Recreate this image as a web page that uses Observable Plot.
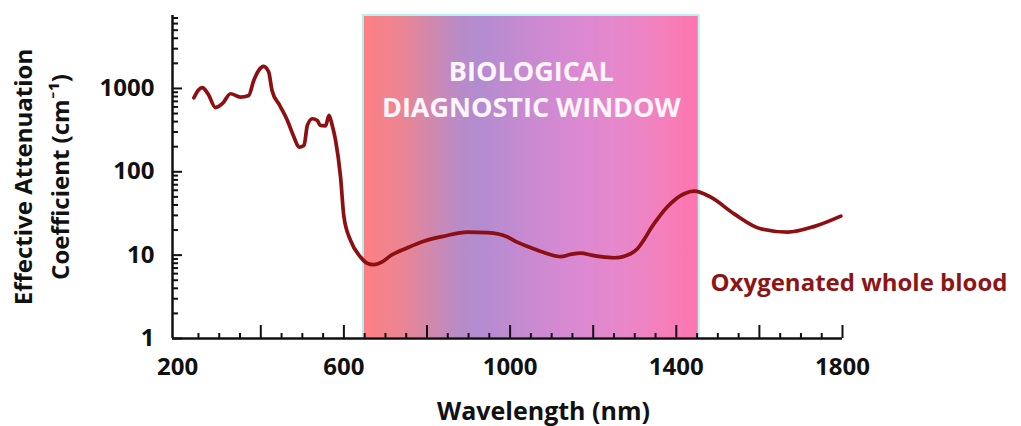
<!DOCTYPE html>
<html>
<head>
<meta charset="utf-8">
<script src="https://cdn.jsdelivr.net/npm/d3@7"></script>
<script src="https://cdn.jsdelivr.net/npm/@observablehq/plot@0.6"></script>
<style>
  html, body { margin: 0; padding: 0; background: #fff; }
  #chart svg { display: block; }
</style>
</head>
<body>
<div id="chart"></div>
<script>
// ---- data ----
const wavelength = [239, 250, 259, 273, 291, 308, 327, 351, 371, 383, 395, 407, 419, 427, 446, 464, 480, 492, 504, 512, 524, 536, 543, 556, 564, 572, 580, 592, 600, 616, 640, 656, 672, 692, 713, 752, 792, 843, 897, 946, 994, 1017, 1055, 1090, 1122, 1145, 1170, 1196, 1218, 1250, 1290, 1307, 1323, 1339, 1359, 1378, 1419, 1443, 1483, 1539, 1603, 1668, 1731, 1796];
const attenuation = [773, 960, 1020, 860, 590, 660, 863, 787, 824, 1247, 1650, 1837, 1571, 946, 620, 413, 260, 198, 207, 360, 433, 413, 360, 356, 474, 360, 238, 86, 29, 15, 9.5, 8.0, 7.7, 8.3, 9.9, 12.2, 14.7, 17.0, 18.9, 18.6, 16.5, 14.3, 12.0, 10.4, 9.6, 10.2, 10.6, 10.0, 9.6, 9.3, 10.4, 12.0, 15.5, 21.0, 29.0, 37.7, 54.5, 58.6, 49.6, 31.3, 20.7, 18.9, 22.0, 29.4];
const seriesName = "Oxygenated whole blood";

const windowStart = 647;
const windowEnd = 1455;
const windowLabel = "BIOLOGICAL\nDIAGNOSTIC WINDOW";

const xDomain = [187.5, 1800];
const yDomain = [1, 7500];
const xTickLabels = [200, 600, 1000, 1400, 1800];
const xMajorTicks = [400, 600, 800, 1000, 1200, 1400, 1600, 1800];
const xMinorTicks = [250, 300, 350, 450, 500, 550, 650, 700, 750, 850, 900, 950, 1050, 1100, 1150, 1250, 1300, 1350, 1450, 1500, 1550, 1650, 1700, 1750];
const yTickLabels = [1, 10, 100, 1000];
const yMinorTicks = [2, 3, 4, 5, 6, 7, 8, 9, 20, 30, 40, 50, 60, 70, 80, 90, 200, 300, 400, 500, 600, 700, 800, 900, 2000, 3000, 4000, 5000, 6000, 7000];

const xTitle = "Wavelength (nm)";
const yTitle = "Effective Attenuation\nCoefficient (cm\u207B\u00B9)";

// ---- build table ----
const curve = wavelength.map((w, i) => ({w, a: attenuation[i]}));
const bandRow = [{x1: windowStart, x2: windowEnd, y1: yDomain[0], y2: yDomain[1]}];

const FONT = "'Open Sans', Lato, sans-serif";
const lineColor = "#8c0f12";

const chart = Plot.plot({
  width: 1021,
  height: 426,
  marginLeft: 172,
  marginRight: 179,
  marginTop: 15,
  marginBottom: 88,
  style: {fontFamily: FONT, fontWeight: "bold", color: "#111", background: "#fff", overflow: "visible"},
  x: {type: "linear", domain: xDomain},
  y: {type: "log", domain: yDomain},
  marks: [
    Plot.rect(bandRow, {x1: "x1", x2: "x2", y1: "y1", y2: "y2", fill: "url(#bdwGrad)", stroke: "#b4f1f5", strokeWidth: 2}),
    Plot.text([windowLabel], {x: (windowStart + windowEnd) / 2, frameAnchor: "top", lineAnchor: "top", dy: 41, lineHeight: 1.3, fontSize: 27, fill: "#fff5fa", fontWeight: "bold"}),
    // axes: tick labels
    Plot.axisX(xTickLabels, {tickSize: 0, tickPadding: 19, fontSize: 24, fontWeight: "bold", label: null, tickFormat: d3.format("d")}),
    Plot.axisY(yTickLabels, {tickSize: 0, tickPadding: 18, fontSize: 24, fontWeight: "bold", label: null, tickFormat: d3.format("d")}),
    // inward ticks
    Plot.axisX(xMajorTicks, {tickSize: -13, strokeWidth: 2, tickFormat: () => "", label: null}),
    Plot.axisX(xMinorTicks, {tickSize: -5, strokeWidth: 2, tickFormat: () => "", label: null}),
    Plot.axisY(yTickLabels, {tickSize: -10, strokeWidth: 2, tickFormat: () => "", label: null}),
    Plot.axisY(yMinorTicks, {tickSize: -6, strokeWidth: 2, tickFormat: () => "", label: null}),
    // axis lines
    Plot.ruleX([xDomain[0]], {stroke: "#111", strokeWidth: 2.5}),
    Plot.ruleY([yDomain[0]], {stroke: "#111", strokeWidth: 2.5}),
    // titles
    Plot.text([xTitle], {frameAnchor: "bottom", dx: 36, dy: 73, lineAnchor: "middle", fontSize: 25, fontWeight: "bold", fill: "#111"}),
    Plot.text([yTitle], {frameAnchor: "left", rotate: -90, dx: -134, textAnchor: "middle", lineAnchor: "middle", lineHeight: 1.53, fontSize: 24, fontWeight: "bold", fill: "#111"}),
    // series
    Plot.line(curve, {x: "w", y: "a", stroke: lineColor, strokeWidth: 3.7, curve: "monotone-x"}),
    Plot.text([seriesName], {frameAnchor: "right", textAnchor: "start", dx: -132, dy: 106, fontSize: 24, fontWeight: "bold", fill: "#8c1616"})
  ]
});

// gradient definition for the diagnostic window
const ns = "http://www.w3.org/2000/svg";
const defs = document.createElementNS(ns, "defs");
const grad = document.createElementNS(ns, "linearGradient");
grad.setAttribute("id", "bdwGrad");
grad.setAttribute("x1", "0"); grad.setAttribute("x2", "1");
grad.setAttribute("y1", "0"); grad.setAttribute("y2", "0");
[[0, "#fd8083"], [0.12, "#ea8593"], [0.28, "#ba8bc6"], [0.34, "#b28cd0"], [0.5, "#c98ad0"], [0.65, "#dc89d2"], [0.78, "#e887c9"], [0.9, "#f57fbb"], [1, "#fe74ad"]].forEach(([o, c]) => {
  const s = document.createElementNS(ns, "stop");
  s.setAttribute("offset", o);
  s.setAttribute("stop-color", c);
  grad.appendChild(s);
});
defs.appendChild(grad);
chart.insertBefore(defs, chart.firstChild);

document.getElementById("chart").appendChild(chart);
</script>
</body>
</html>
